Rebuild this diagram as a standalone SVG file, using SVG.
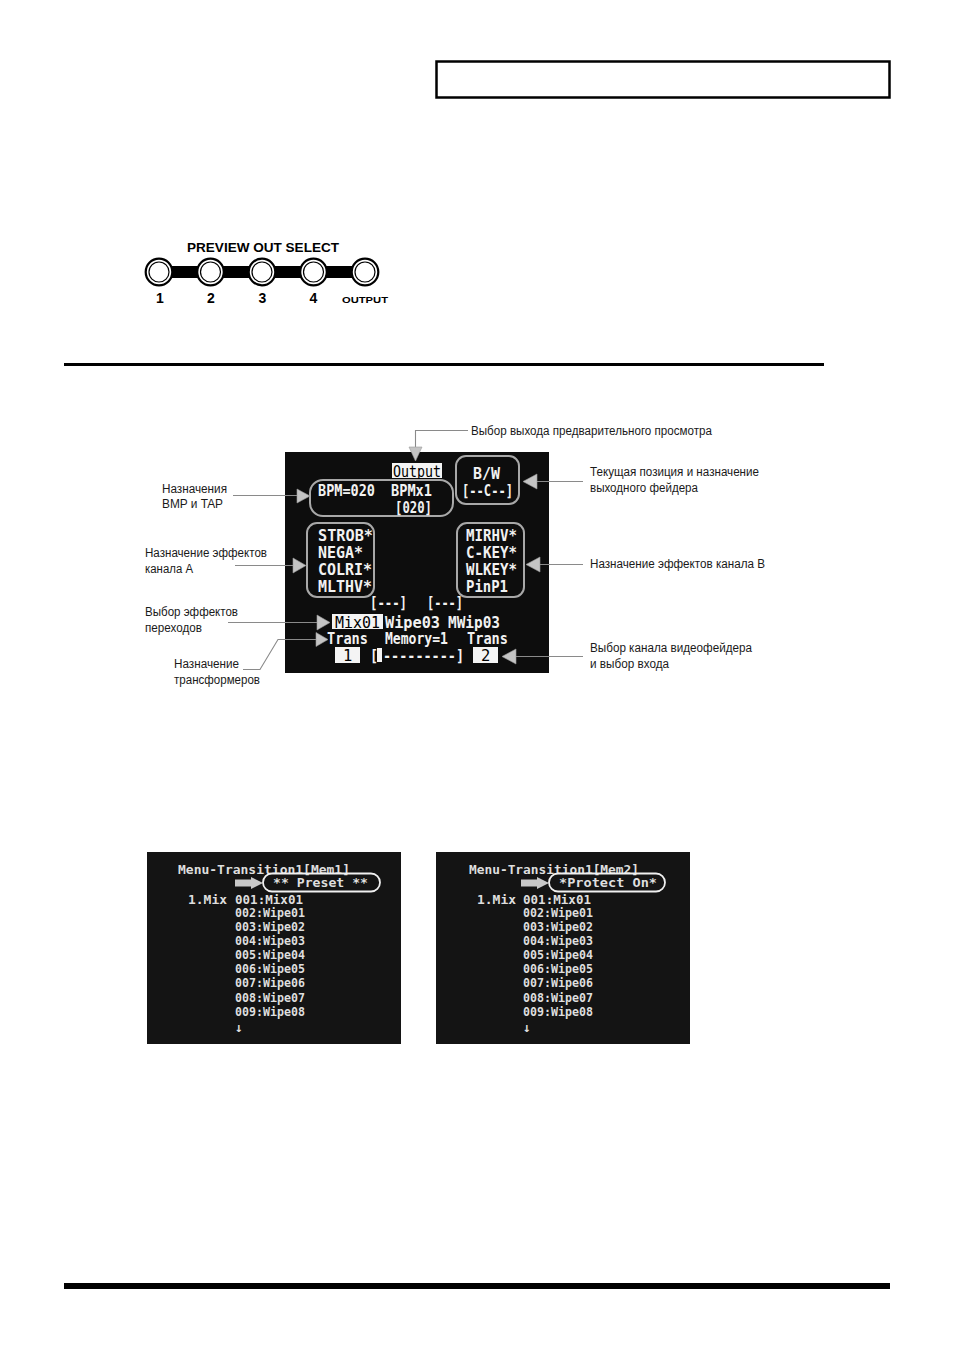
<svg xmlns="http://www.w3.org/2000/svg" width="954" height="1350" viewBox="0 0 954 1350">
<style>
.lbl{font-family:"Liberation Sans",Arial,sans-serif;font-size:12.5px;fill:#1a1a1a}
.scr{font-family:"DejaVu Sans Mono","Liberation Mono",monospace;font-weight:bold;font-size:15.5px;fill:#f2f2f2}
.scrk{font-family:"DejaVu Sans Mono","Liberation Mono",monospace;font-size:15.5px;fill:#000}
.men{font-family:"DejaVu Sans Mono","Liberation Mono",monospace;font-weight:bold;font-size:13px;fill:#dedede}
.lead{fill:none;stroke:#8a8a8a;stroke-width:1.1}
.tri{fill:#c4c4c4;stroke:#9a9a9a;stroke-width:0.6}
.rbox{fill:none;stroke:#a8a8a8;stroke-width:2}
.btn{font-family:"Liberation Sans",Arial,sans-serif;font-weight:bold;fill:#000}
</style>

<!-- header box -->
<rect id="header" x="436.5" y="61.5" width="453" height="36" fill="#fff" stroke="#000" stroke-width="2.5"/>

<!-- preview out select -->
<g id="preview-out-select">
  <text class="btn" x="263" y="251.5" font-size="12.5" text-anchor="middle" textLength="152" lengthAdjust="spacingAndGlyphs">PREVIEW OUT SELECT</text>
  <rect x="159" y="266" width="206" height="12" fill="#000"/>
  <g fill="#fff" stroke="#000">
    <circle cx="159" cy="272" r="13.3" stroke-width="2.2"/>
    <circle cx="159" cy="272" r="10" stroke-width="1.2"/>
    <circle cx="210.5" cy="272" r="13.3" stroke-width="2.2"/>
    <circle cx="210.5" cy="272" r="10" stroke-width="1.2"/>
    <circle cx="262" cy="272" r="13.3" stroke-width="2.2"/>
    <circle cx="262" cy="272" r="10" stroke-width="1.2"/>
    <circle cx="313.5" cy="272" r="13.3" stroke-width="2.2"/>
    <circle cx="313.5" cy="272" r="10" stroke-width="1.2"/>
    <circle cx="365" cy="272" r="13.3" stroke-width="2.2"/>
    <circle cx="365" cy="272" r="10" stroke-width="1.2"/>
  </g>
  <text class="btn" x="160" y="303" font-size="14" text-anchor="middle">1</text>
  <text class="btn" x="211" y="303" font-size="14" text-anchor="middle">2</text>
  <text class="btn" x="262.5" y="303" font-size="14" text-anchor="middle">3</text>
  <text class="btn" x="313.5" y="303" font-size="14" text-anchor="middle">4</text>
  <text class="btn" x="365" y="302.5" font-size="9.5" text-anchor="middle" textLength="46" lengthAdjust="spacingAndGlyphs">OUTPUT</text>
</g>

<!-- section rule -->
<rect id="rule-top" x="64" y="363" width="760" height="3" fill="#000"/>

<!-- main screen -->
<g id="screen-main">
  <rect x="285" y="452" width="264" height="221" fill="#0d0d0d"/>
  <rect x="392" y="463" width="50" height="15" fill="#f4f4f4"/>
  <text class="scrk" x="393" y="477" textLength="48" lengthAdjust="spacingAndGlyphs">Output</text>
  <rect class="rbox" x="310" y="480" width="143" height="36" rx="13"/>
  <text class="scr" x="318" y="496" textLength="57" lengthAdjust="spacingAndGlyphs">BPM=020</text>
  <text class="scr" x="391" y="496" textLength="41" lengthAdjust="spacingAndGlyphs">BPMx1</text>
  <text class="scr" x="395" y="513" textLength="37" lengthAdjust="spacingAndGlyphs">[020]</text>
  <rect class="rbox" x="456" y="456" width="63" height="48" rx="10"/>
  <text class="scr" x="473" y="479" textLength="27" lengthAdjust="spacingAndGlyphs">B/W</text>
  <text class="scr" x="462" y="496" textLength="51" lengthAdjust="spacingAndGlyphs">[--C--]</text>
  <rect class="rbox" x="307" y="523" width="67" height="74" rx="10"/>
  <text class="scr" x="318" y="541" textLength="55" lengthAdjust="spacingAndGlyphs">STROB*</text>
  <text class="scr" x="318" y="558" textLength="45" lengthAdjust="spacingAndGlyphs">NEGA*</text>
  <text class="scr" x="318" y="575" textLength="54" lengthAdjust="spacingAndGlyphs">COLRI*</text>
  <text class="scr" x="318" y="592" textLength="54" lengthAdjust="spacingAndGlyphs">MLTHV*</text>
  <rect class="rbox" x="457" y="523" width="67" height="74" rx="10"/>
  <text class="scr" x="466" y="541" textLength="51" lengthAdjust="spacingAndGlyphs">MIRHV*</text>
  <text class="scr" x="466" y="558" textLength="51" lengthAdjust="spacingAndGlyphs">C-KEY*</text>
  <text class="scr" x="466" y="575" textLength="51" lengthAdjust="spacingAndGlyphs">WLKEY*</text>
  <text class="scr" x="466" y="592" textLength="42" lengthAdjust="spacingAndGlyphs">PinP1</text>
  <text class="scr" x="370" y="608" textLength="37" lengthAdjust="spacingAndGlyphs">[---]</text>
  <text class="scr" x="427" y="608" textLength="36" lengthAdjust="spacingAndGlyphs">[---]</text>
  <rect x="332" y="614" width="51" height="15" fill="#f4f4f4"/>
  <text class="scrk" x="335" y="628" textLength="45" lengthAdjust="spacingAndGlyphs">Mix01</text>
  <text class="scr" x="385" y="628" textLength="55" lengthAdjust="spacingAndGlyphs">Wipe03</text>
  <text class="scr" x="448" y="628" textLength="52" lengthAdjust="spacingAndGlyphs">MWip03</text>
  <text class="scr" x="327" y="644" textLength="41" lengthAdjust="spacingAndGlyphs">Trans</text>
  <text class="scr" x="385" y="644" textLength="63" lengthAdjust="spacingAndGlyphs">Memory=1</text>
  <text class="scr" x="467" y="644" textLength="41" lengthAdjust="spacingAndGlyphs">Trans</text>
  <rect x="335" y="647" width="25" height="16" fill="#f4f4f4"/>
  <text class="scrk" x="343" y="661">1</text>
  <text class="scr" x="370" y="661" textLength="8" lengthAdjust="spacingAndGlyphs">[</text>
  <rect x="377" y="648" width="5" height="14" fill="#f4f4f4"/>
  <text class="scr" x="383" y="661" textLength="81" lengthAdjust="spacingAndGlyphs">---------]</text>
  <rect x="473" y="647" width="25" height="16" fill="#f4f4f4"/>
  <text class="scrk" x="481" y="661">2</text>
</g>

<!-- connectors -->
<g id="connectors">
  <polyline class="lead" points="468,430.5 415.5,430.5 415.5,448"/>
  <polygon class="tri" points="409,447 422,447 415.5,461"/>
  <line class="lead" x1="583" y1="481.5" x2="536" y2="481.5"/>
  <polygon class="tri" points="537,474 537,489 523,481.5"/>
  <line class="lead" x1="233" y1="495.5" x2="298" y2="495.5"/>
  <polygon class="tri" points="297,489 297,503 310,496"/>
  <line class="lead" x1="235" y1="565.5" x2="294" y2="565.5"/>
  <polygon class="tri" points="293,558 293,573 306,565.5"/>
  <line class="lead" x1="583" y1="564.5" x2="539" y2="564.5"/>
  <polygon class="tri" points="540,557 540,572 526,564.5"/>
  <line class="lead" x1="228" y1="622.5" x2="318" y2="622.5"/>
  <polygon class="tri" points="317,615 317,630 330,622.5"/>
  <polyline class="lead" points="243,669.5 260,669.5 278,639.5 317,639.5"/>
  <polygon class="tri" points="316,632.5 316,646.5 328,639.5"/>
  <line class="lead" x1="583" y1="656.5" x2="515" y2="656.5"/>
  <polygon class="tri" points="516,649 516,664 502,656.5"/>
</g>

<!-- leader labels -->
<g id="label-preview"><text class="lbl" x="471" y="435" textLength="241" lengthAdjust="spacingAndGlyphs">Выбор выхода предварительного просмотра</text></g>
<g id="label-fader">
  <text class="lbl" x="590" y="476" textLength="169" lengthAdjust="spacingAndGlyphs">Текущая позиция и назначение</text>
  <text class="lbl" x="590" y="492" textLength="108" lengthAdjust="spacingAndGlyphs">выходного фейдера</text>
</g>
<g id="label-bpm">
  <text class="lbl" x="162" y="493" textLength="65" lengthAdjust="spacingAndGlyphs">Назначения</text>
  <text class="lbl" x="162" y="508" textLength="61" lengthAdjust="spacingAndGlyphs">BMP и TAP</text>
</g>
<g id="label-effects-a">
  <text class="lbl" x="145" y="557" textLength="122" lengthAdjust="spacingAndGlyphs">Назначение эффектов</text>
  <text class="lbl" x="145" y="573" textLength="48" lengthAdjust="spacingAndGlyphs">канала А</text>
</g>
<g id="label-effects-b"><text class="lbl" x="590" y="568" textLength="175" lengthAdjust="spacingAndGlyphs">Назначение эффектов канала В</text></g>
<g id="label-transition">
  <text class="lbl" x="145" y="616" textLength="93" lengthAdjust="spacingAndGlyphs">Выбор эффектов</text>
  <text class="lbl" x="145" y="632" textLength="57" lengthAdjust="spacingAndGlyphs">переходов</text>
</g>
<g id="label-channel">
  <text class="lbl" x="590" y="652" textLength="162" lengthAdjust="spacingAndGlyphs">Выбор канала видеофейдера</text>
  <text class="lbl" x="590" y="668" textLength="79" lengthAdjust="spacingAndGlyphs">и выбор входа</text>
</g>
<g id="label-trans">
  <text class="lbl" x="174" y="668" textLength="65" lengthAdjust="spacingAndGlyphs">Назначение</text>
  <text class="lbl" x="174" y="684" textLength="86" lengthAdjust="spacingAndGlyphs">трансформеров</text>
</g>

<!-- menu screen 1 -->
<g id="screen-mem1">
  <rect x="147" y="852" width="254" height="192" fill="#141414"/>
  <text class="men" x="178" y="874" textLength="172" lengthAdjust="spacingAndGlyphs">Menu-Transition1[Mem1]</text>
  <polygon points="235,879.5 251,879.5 251,877 263,883 251,889 251,886.5 235,886.5" fill="#c8c8c8"/>
  <rect x="263" y="873.5" width="117" height="18" rx="9" fill="none" stroke="#f0f0f0" stroke-width="1.8"/>
  <text class="men" x="273" y="887" textLength="95" lengthAdjust="spacingAndGlyphs">** Preset **</text>
  <text class="men" x="188" y="904" textLength="39" lengthAdjust="spacingAndGlyphs">1.Mix</text>
  <text class="men" x="235" y="904" textLength="68" lengthAdjust="spacingAndGlyphs">001:Mix01</text>
  <text class="men" x="235" y="917" textLength="70" lengthAdjust="spacingAndGlyphs">002:Wipe01</text>
  <text class="men" x="235" y="931" textLength="70" lengthAdjust="spacingAndGlyphs">003:Wipe02</text>
  <text class="men" x="235" y="945" textLength="70" lengthAdjust="spacingAndGlyphs">004:Wipe03</text>
  <text class="men" x="235" y="959" textLength="70" lengthAdjust="spacingAndGlyphs">005:Wipe04</text>
  <text class="men" x="235" y="973" textLength="70" lengthAdjust="spacingAndGlyphs">006:Wipe05</text>
  <text class="men" x="235" y="987" textLength="70" lengthAdjust="spacingAndGlyphs">007:Wipe06</text>
  <text class="men" x="235" y="1002" textLength="70" lengthAdjust="spacingAndGlyphs">008:Wipe07</text>
  <text class="men" x="235" y="1016" textLength="70" lengthAdjust="spacingAndGlyphs">009:Wipe08</text>
  <text class="men" x="235" y="1032">↓</text>
</g>

<!-- menu screen 2 -->
<g id="screen-mem2">
  <rect x="436" y="852" width="254" height="192" fill="#141414"/>
  <text class="men" x="469" y="874" textLength="170" lengthAdjust="spacingAndGlyphs">Menu-Transition1[Mem2]</text>
  <polygon points="521,879.5 537,879.5 537,877 549,883 537,889 537,886.5 521,886.5" fill="#c8c8c8"/>
  <rect x="549" y="873.5" width="116" height="18" rx="9" fill="none" stroke="#f0f0f0" stroke-width="1.8"/>
  <text class="men" x="559" y="887" textLength="98" lengthAdjust="spacingAndGlyphs">*Protect On*</text>
  <text class="men" x="477" y="904" textLength="39" lengthAdjust="spacingAndGlyphs">1.Mix</text>
  <text class="men" x="523" y="904" textLength="68" lengthAdjust="spacingAndGlyphs">001:Mix01</text>
  <text class="men" x="523" y="917" textLength="70" lengthAdjust="spacingAndGlyphs">002:Wipe01</text>
  <text class="men" x="523" y="931" textLength="70" lengthAdjust="spacingAndGlyphs">003:Wipe02</text>
  <text class="men" x="523" y="945" textLength="70" lengthAdjust="spacingAndGlyphs">004:Wipe03</text>
  <text class="men" x="523" y="959" textLength="70" lengthAdjust="spacingAndGlyphs">005:Wipe04</text>
  <text class="men" x="523" y="973" textLength="70" lengthAdjust="spacingAndGlyphs">006:Wipe05</text>
  <text class="men" x="523" y="987" textLength="70" lengthAdjust="spacingAndGlyphs">007:Wipe06</text>
  <text class="men" x="523" y="1002" textLength="70" lengthAdjust="spacingAndGlyphs">008:Wipe07</text>
  <text class="men" x="523" y="1016" textLength="70" lengthAdjust="spacingAndGlyphs">009:Wipe08</text>
  <text class="men" x="523" y="1032">↓</text>
</g>

<!-- bottom rule -->
<rect id="rule-bottom" x="64" y="1283" width="826" height="6" fill="#000"/>
</svg>
